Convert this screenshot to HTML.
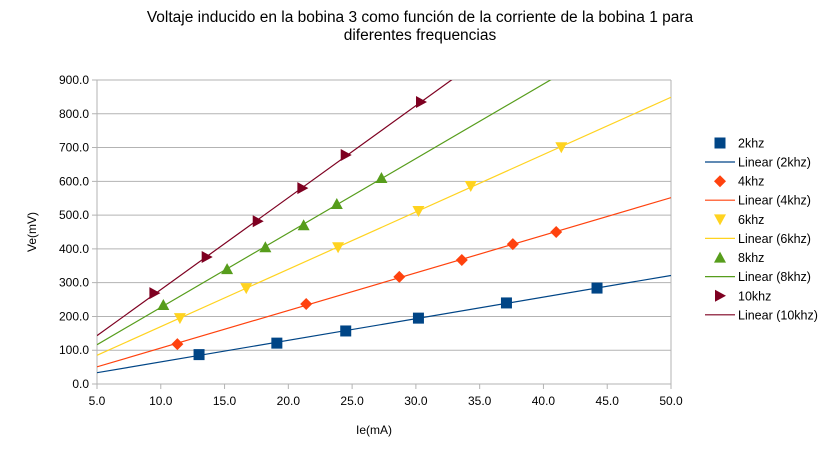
<!DOCTYPE html>
<html><head><meta charset="utf-8"><style>
body{margin:0;background:#fff;font-family:"Liberation Sans",sans-serif}
svg text{font-family:"Liberation Sans",sans-serif}
</style></head><body>
<svg id="c" width="833" height="455">
<text x="420" y="22" text-anchor="middle" font-size="15.5" fill="#000">Voltaje inducido en la bobina 3 como función de la corriente de la bobina 1 para</text>
<text x="420" y="40" text-anchor="middle" font-size="15.5" fill="#000">diferentes frequencias</text>
<text x="374" y="434" text-anchor="middle" font-size="12">Ie(mA)</text>
<text transform="translate(36,232) rotate(-90)" text-anchor="middle" font-size="12">Ve(mV)</text>
<g id="grid"></g><g id="marks"></g><g id="legend"></g>
</svg>
<script>
const xTicks=[5,10,15,20,25,30,35,40,45,50];
const yTicks=[0,100,200,300,400,500,600,700,800,900];
const names=["2khz","4khz","6khz","8khz","10khz"];
const colors=["#004586","#ff420e","#ffd320","#579d1c","#7e0021"];
const shapes=["square","diamond","down","up","right"];
const x2=[13.0,19.1,24.5,30.2,37.1,44.2];
const y2=[87,121,157,195,240,284];
const x4=[11.3,21.4,28.7,33.6,37.6,41.0];
const y4=[118,237,317,367,414,450];
const x6=[11.5,16.7,23.9,30.2,34.3,41.4];
const y6=[195,284,405,512,586,701];
const x8=[10.2,15.2,18.2,21.2,23.8,27.3];
const y8=[234,340,405,470,533,610];
const x10=[9.5,13.6,17.6,21.1,24.5,30.4];
const y10=[269,376,482,580,678,835];
const XS=[x2,x4,x6,x8,x10], YS=[y2,y4,y6,y8,y10];
const L=97,R=671,T=80,B=384,xmin=5,xmax=50,ymax=900;
const sx=v=>L+(v-xmin)/(xmax-xmin)*(R-L);
const sy=v=>B-v/ymax*(B-T);
const NS="http://www.w3.org/2000/svg";
function mk(t,a,p){const e=document.createElementNS(NS,t);for(const k in a)e.setAttribute(k,a[k]);p.appendChild(e);return e;}
const g=document.getElementById('grid'),m=document.getElementById('marks'),lg=document.getElementById('legend');
yTicks.forEach(v=>{
 const l=mk('line',{x1:L-5,x2:R,y1:sy(v),y2:sy(v),stroke:'#b3b3b3','stroke-width':1},g);
 
 
 const t=mk('text',{x:L-8,y:sy(v)+4,'text-anchor':'end','font-size':12},g);t.textContent=v.toFixed(1);
 
 
});
mk('line',{x1:L,x2:L,y1:T,y2:B+5,stroke:'#b3b3b3'},g);
mk('line',{x1:R,x2:R,y1:T,y2:B+5,stroke:'#b3b3b3'},g);
xTicks.forEach(v=>{
 mk('line',{x1:sx(v),x2:sx(v),y1:B,y2:B+5,stroke:'#b3b3b3'},g);
 const t=mk('text',{x:sx(v),y:B+21,'text-anchor':'middle','font-size':12},g);t.textContent=v.toFixed(1);
 
 
});
function marker(shape,cx,cy,c,p){
 let pts;const s=6;
 if(shape==='square')return mk('rect',{x:cx-5.5,y:cy-5.5,width:11,height:11,fill:c},p);
 if(shape==='diamond')pts=[[cx,cy-6],[cx+6,cy],[cx,cy+6],[cx-6,cy]];
 if(shape==='down')pts=[[cx-6,cy-5],[cx+6,cy-5],[cx,cy+6]];
 if(shape==='up')pts=[[cx-6,cy+5],[cx+6,cy+5],[cx,cy-6]];
 if(shape==='right')pts=[[cx-5,cy-6],[cx-5,cy+6],[cx+6,cy]];
 return mk('polygon',{points:pts.map(q=>q.join(',')).join(' '),fill:c},p);
}
const defs=mk('defs',{},document.getElementById('c'));
const cp=mk('clipPath',{id:'clip'},defs);mk('rect',{x:L,y:T,width:R-L,height:B-T},cp);
names.forEach((n,i)=>{
 const xs=XS[i],ys=YS[i],k=xs.length;
 const mx=xs.reduce((a,b)=>a+b)/k,my=ys.reduce((a,b)=>a+b)/k;
 let num=0,den=0;xs.forEach((x,j)=>{num+=(x-mx)*(ys[j]-my);den+=(x-mx)*(x-mx);});
 const sl=num/den,ic=my-sl*mx;
 const ln=mk('line',{x1:sx(xmin),y1:sy(ic+sl*xmin),x2:sx(xmax),y2:sy(ic+sl*xmax),stroke:colors[i],'stroke-width':1.2,'clip-path':'url(#clip)'},m);
 
 
 xs.forEach((x,j)=>{
  const e=marker(shapes[i],sx(x),sy(ys[j]),colors[i],m);
  
  
 });
 const yb=143+i*38.2;
 const lm=marker(shapes[i],720,yb,colors[i],lg);
 
 
 const t1=mk('text',{x:738,y:yb+4.5,'font-size':12.5},lg);t1.textContent=n;
 
 
 const ll=mk('line',{x1:705,x2:735,y1:yb+19,y2:yb+19,stroke:colors[i],'stroke-width':1.2},lg);
 
 
 const t2=mk('text',{x:738,y:yb+23.5,'font-size':12.5},lg);t2.textContent='Linear ('+n+')';
 
 
});
</script>
</body></html>
